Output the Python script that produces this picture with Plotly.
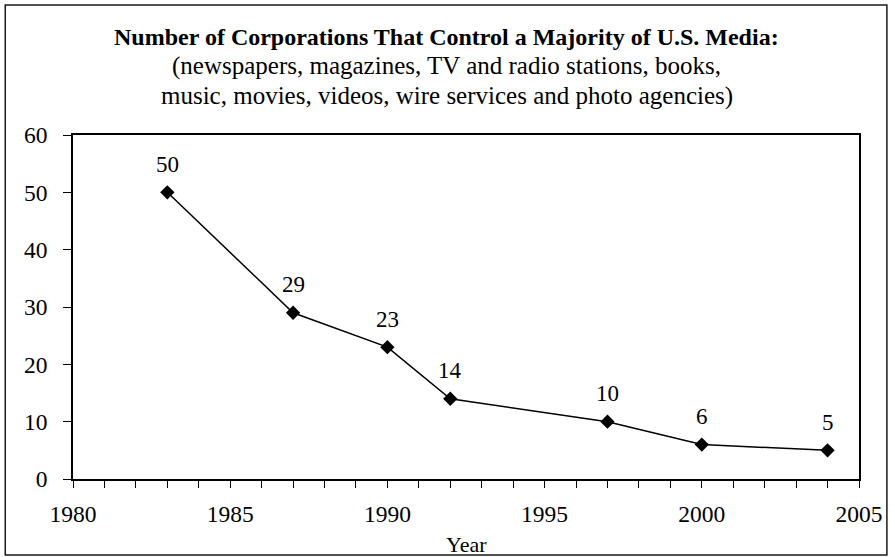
import plotly.graph_objects as go

years = [1983, 1987, 1990, 1992, 1997, 2000, 2004]
corporations = [50, 29, 23, 14, 10, 6, 5]
labels = [str(v) for v in corporations]

title_line = "Number of Corporations That Control a Majority of U.S. Media:"
sub_line1 = "(newspapers, magazines, TV and radio stations, books,"
sub_line2 = "music, movies, videos, wire services and photo agencies)"
x_title = "Year"

FONT = "Liberation Serif, Times New Roman, serif"

W, H = 895, 557
L, R, T, B = 73, 33, 135, 78
pw, ph = W - L - R, H - T - B

def px(x):
    return (x - L) / pw

def py(y):
    return (H - B - y) / ph

fig = go.Figure()
fig.add_trace(go.Scatter(
    x=years, y=corporations, mode="lines+markers",
    line=dict(color="black", width=1.5),
    marker=dict(symbol="diamond", size=11, color="black"),
    hoverinfo="x+y", showlegend=False,
))

annotations = []
for x, y, t in zip(years, corporations, labels):
    annotations.append(dict(x=x, y=y, xref="x", yref="y", text=t, showarrow=False,
                            yshift=28, font=dict(family=FONT, size=23, color="black")))

cx = px(448)
annotations.append(dict(x=cx, y=py(37), xref="paper", yref="paper", text="<b>" + title_line + "</b>",
                        showarrow=False, xanchor="center", yanchor="middle",
                        font=dict(family=FONT, size=24, color="black")))
annotations.append(dict(x=cx, y=py(66), xref="paper", yref="paper", text=sub_line1,
                        showarrow=False, xanchor="center", yanchor="middle",
                        font=dict(family=FONT, size=25, color="black")))
annotations.append(dict(x=cx, y=py(96), xref="paper", yref="paper", text=sub_line2,
                        showarrow=False, xanchor="center", yanchor="middle",
                        font=dict(family=FONT, size=25, color="black")))
annotations.append(dict(x=0.5, y=py(544), xref="paper", yref="paper", text=x_title,
                        showarrow=False, xanchor="center", yanchor="middle",
                        font=dict(family=FONT, size=22, color="black")))

fig.update_layout(
    width=W, height=H,
    margin=dict(l=L, r=R, t=T, b=B, pad=0),
    paper_bgcolor="white", plot_bgcolor="white",
    font=dict(family=FONT, size=23, color="black"),
    annotations=annotations,
    shapes=[dict(type="rect", xref="paper", yref="paper",
                 x0=px(5), x1=px(890), y0=py(5), y1=py(555),
                 line=dict(color="#1a1a1a", width=1.5), fillcolor="rgba(0,0,0,0)", layer="below")],
    xaxis=dict(range=[1980, 2005], dtick=5, tick0=1980, showgrid=False, zeroline=False,
               showline=True, linecolor="black", linewidth=1.5, mirror=True,
               ticks="outside", ticklen=7, tickwidth=1, tickcolor="black",
               minor=dict(dtick=1, ticks="outside", ticklen=7, tickwidth=1, tickcolor="black", showgrid=False),
               ticklabelstandoff=6,
               tickfont=dict(family=FONT, size=23.5, color="black")),
    yaxis=dict(range=[0, 60], dtick=10, showgrid=False, zeroline=False,
               showline=True, linecolor="black", linewidth=1.5, mirror=True,
               ticks="outside", ticklen=8, tickwidth=1, tickcolor="black",
               ticklabelstandoff=11,
               tickfont=dict(family=FONT, size=23.5, color="black")),
)

fig.write_html("out.html")
